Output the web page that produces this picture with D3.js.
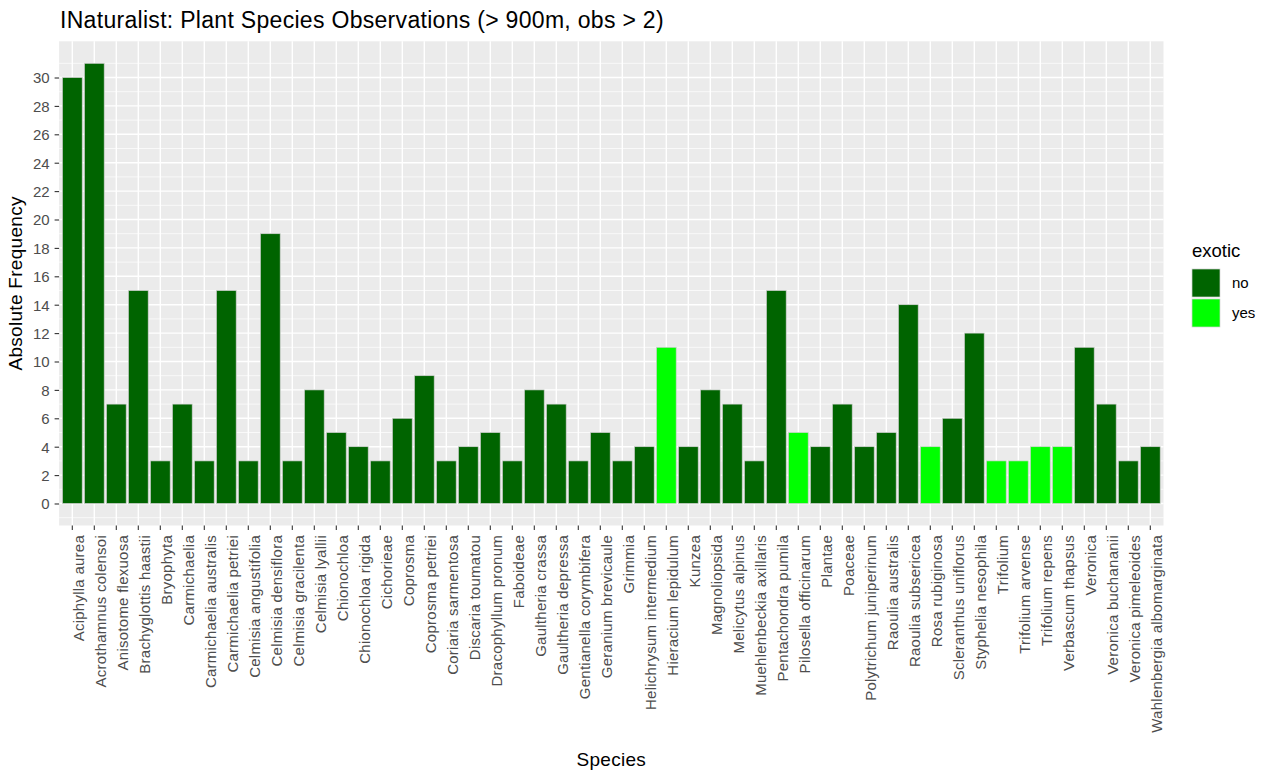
<!DOCTYPE html>
<html><head><meta charset="utf-8">
<script src="https://cdn.jsdelivr.net/npm/d3@7"></script>
<style>
body{margin:0;background:#fff;}
text{font-family:"Liberation Sans",Arial,sans-serif;}
</style></head>
<body>
<svg id="chart" width="1266" height="774"></svg>
<script>
const species = ["Aciphylla aurea","Acrothamnus colensoi","Anisotome flexuosa","Brachyglottis haastii","Bryophyta","Carmichaelia","Carmichaelia australis","Carmichaelia petriei","Celmisia angustifolia","Celmisia densiflora","Celmisia gracilenta","Celmisia lyallii","Chionochloa","Chionochloa rigida","Cichorieae","Coprosma","Coprosma petriei","Coriaria sarmentosa","Discaria toumatou","Dracophyllum pronum","Faboideae","Gaultheria crassa","Gaultheria depressa","Gentianella corymbifera","Geranium brevicaule","Grimmia","Helichrysum intermedium","Hieracium lepidulum","Kunzea","Magnoliopsida","Melicytus alpinus","Muehlenbeckia axillaris","Pentachondra pumila","Pilosella officinarum","Plantae","Poaceae","Polytrichum juniperinum","Raoulia australis","Raoulia subsericea","Rosa rubiginosa","Scleranthus uniflorus","Styphelia nesophila","Trifolium","Trifolium arvense","Trifolium repens","Verbascum thapsus","Veronica","Veronica buchananii","Veronica pimeleoides","Wahlenbergia albomarginata"];
const counts = [30,31,7,15,3,7,3,15,3,19,3,8,5,4,3,6,9,3,4,5,3,8,7,3,5,3,4,11,4,8,7,3,15,5,4,7,4,5,14,4,6,12,3,3,4,4,11,7,3,4];
const exotic = ["no","no","no","no","no","no","no","no","no","no","no","no","no","no","no","no","no","no","no","no","no","no","no","no","no","no","no","yes","no","no","no","no","no","yes","no","no","no","no","no","yes","no","no","yes","yes","yes","yes","no","no","no","no"];
const exoticLevels = ["no","yes"];
const exoticColors = ["#006400","#00FF00"];
const yTicks = d3.range(0, 31, 2);
const yMinor = d3.range(-1, 33, 2);

const svg = d3.select("#chart");
const L = 59.1, R = 1163.5, T = 41.3, B = 525.5;
const x = d3.scaleBand().domain(species).range([L, R]).paddingInner(0.1).paddingOuter(0.15);
const y = d3.scaleLinear().domain([-1.55, 32.55]).range([B, T]);
const color = d3.scaleOrdinal().domain(exoticLevels).range(exoticColors);

svg.append("rect").attr("x", L).attr("y", T).attr("width", R - L).attr("height", B - T).attr("fill", "#EBEBEB");
// minor grid
svg.append("g").selectAll("line").data(yMinor).join("line")
  .attr("x1", L).attr("x2", R).attr("y1", d => y(d)).attr("y2", d => y(d))
  .attr("stroke", "#fff").attr("stroke-width", 0.7);
// major grid
svg.append("g").selectAll("line").data(yTicks).join("line")
  .attr("x1", L).attr("x2", R).attr("y1", d => y(d)).attr("y2", d => y(d))
  .attr("stroke", "#fff").attr("stroke-width", 1.4);
svg.append("g").selectAll("line").data(species).join("line")
  .attr("y1", T).attr("y2", B).attr("x1", d => x(d) + x.bandwidth() / 2).attr("x2", d => x(d) + x.bandwidth() / 2)
  .attr("stroke", "#fff").attr("stroke-width", 1.4);

// bars
svg.append("g").selectAll("rect").data(species).join("rect")
  .attr("x", d => x(d)).attr("width", x.bandwidth())
  .attr("y", (d, i) => y(counts[i])).attr("height", (d, i) => y(0) - y(counts[i]))
  .attr("fill", (d, i) => color(exotic[i]))
  .attr("stroke", "#d0d0d0").attr("stroke-width", 0.7);

// y axis
const yAxis = svg.append("g").attr("transform", `translate(${L},0)`)
  .call(d3.axisLeft(y).tickValues(yTicks).tickSize(4.5).tickPadding(5));
yAxis.select(".domain").remove();
yAxis.selectAll("line").attr("stroke", "#333").attr("stroke-width", 1.1);
yAxis.selectAll("text").attr("fill", "#4D4D4D").style("font-size", "15px").attr("dy", "0.36em");

// x axis
const xAxis = svg.append("g").attr("transform", `translate(0,${B})`)
  .call(d3.axisBottom(x).tickSize(4.5).tickPadding(3));
xAxis.select(".domain").remove();
xAxis.selectAll("line").attr("stroke", "#333").attr("stroke-width", 1.1);
xAxis.selectAll("text").attr("fill", "#4D4D4D").style("font-size", "15px").style("letter-spacing", "0.25px")
  .attr("text-anchor", "end").attr("transform", "rotate(-90)")
  .attr("x", -9.5).attr("y", 0).attr("dy", "0.8em");

// titles
svg.append("text").attr("x", 60).attr("y", 28).style("font-size", "23px").style("letter-spacing", "0.3px").attr("fill", "#000")
  .text("INaturalist: Plant Species Observations (> 900m, obs > 2)");
svg.append("text").attr("x", (L + R) / 2).attr("y", 766).attr("text-anchor", "middle")
  .style("font-size", "19px").style("letter-spacing", "0.3px").attr("fill", "#000").text("Species");
svg.append("text").attr("transform", `translate(22,${(T + B) / 2}) rotate(-90)`).attr("text-anchor", "middle")
  .style("font-size", "19px").style("letter-spacing", "0.3px").attr("fill", "#000").text("Absolute Frequency");

// legend
const lg = svg.append("g");
lg.append("text").attr("x", 1192).attr("y", 257).style("font-size", "18.5px").attr("fill", "#000").text("exotic");
lg.selectAll("rect").data(exoticLevels).join("rect")
  .attr("x", 1192).attr("y", (d, i) => 269 + i * 30).attr("width", 28).attr("height", 28)
  .attr("fill", d => color(d)).attr("stroke", "#d0d0d0").attr("stroke-width", 0.7);
lg.selectAll("text.lab").data(exoticLevels).join("text").attr("class", "lab")
  .attr("x", 1232).attr("y", (d, i) => 288 + i * 30).style("font-size", "15px").attr("fill", "#000").text(d => d);
</script>
</body></html>
